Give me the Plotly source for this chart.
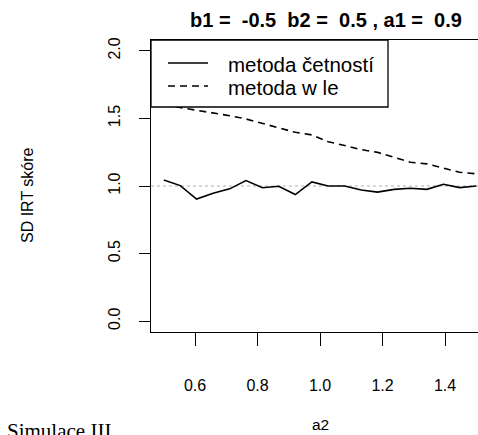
import plotly.graph_objects as go

# a2 values (x axis)
a2 = [0.5, 0.553, 0.605, 0.658, 0.711, 0.763, 0.816, 0.868, 0.921, 0.974,
      1.026, 1.079, 1.132, 1.184, 1.237, 1.289, 1.342, 1.395, 1.447, 1.5]

# SD IRT score - frequency method (solid)
sd_cetnosti = [1.044, 1.003, 0.903, 0.947, 0.979, 1.04, 0.987, 0.998, 0.937, 1.03,
               1.0, 1.0, 0.97, 0.955, 0.975, 0.983, 0.975, 1.013, 0.988, 1.0]

# SD IRT score - WLE method (dashed)
sd_wle = [1.60, 1.58, 1.562, 1.544, 1.52, 1.496, 1.463, 1.434, 1.397, 1.378,
          1.328, 1.299, 1.269, 1.249, 1.212, 1.176, 1.164, 1.131, 1.102, 1.09]

x_ticks = [0.6, 0.8, 1.0, 1.2, 1.4]
x_ticklabels = ["0.6", "0.8", "1.0", "1.2", "1.4"]
y_ticks = [0.0, 0.5, 1.0, 1.5, 2.0]
y_ticklabels = ["0.0", "0.5", "1.0", "1.5", "2.0"]

names = ["metoda četností", "metoda w le"]
dashes = ["solid", "7px,5px"]
title_text = "b1 =\u00a0 -0.5\u00a0 b2 =\u00a0 0.5 , a1 =\u00a0 0.9"

FONT = "Liberation Sans, Arial, sans-serif"

# plot-area geometry (pixels)
L, R, T, B = 151, 478, 40, 332
PW, PH = R - L, B - T


def px(x):
    return (x - L) / PW


def py(y):
    return (B - y) / PH


fig = go.Figure()
fig.add_trace(go.Scatter(x=a2, y=sd_cetnosti, mode="lines", name=names[0],
                         line=dict(color="black", width=1.6, dash=dashes[0])))
fig.add_trace(go.Scatter(x=a2, y=sd_wle, mode="lines", name=names[1],
                         line=dict(color="black", width=1.6, dash=dashes[1])))

# reference line at 1
fig.add_shape(type="line", xref="paper", x0=0, x1=1, yref="y", y0=1, y1=1,
              line=dict(color="#b0b0b0", width=1.2, dash="dot"), layer="below")

# legend box (R style, top-left)
fig.add_shape(type="rect", xref="paper", yref="paper",
              x0=px(151), x1=px(388), y0=py(107), y1=py(40),
              fillcolor="white", line=dict(color="black", width=1.3), layer="above")
leg_y = [63, 86]
for i in range(2):
    fig.add_shape(type="line", xref="paper", yref="paper",
                  x0=px(168), x1=px(208), y0=py(leg_y[i]), y1=py(leg_y[i]),
                  line=dict(color="black", width=1.6, dash=dashes[i]), layer="above")
    fig.add_annotation(text=names[i], xref="paper", yref="paper",
                       x=px(226), y=py(leg_y[i] + 1), xanchor="left", yanchor="middle",
                       showarrow=False,
                       font=dict(size=20.5, family=FONT, color="black"))

fig.update_layout(
    width=478, height=435,
    margin=dict(l=L, r=478 - R, t=T, b=435 - B),
    paper_bgcolor="white", plot_bgcolor="white",
    font=dict(family=FONT, color="black"),
    showlegend=False,
    title=dict(text="<b>" + title_text + "</b>", x=326 / 478, xanchor="center",
               y=1 - 20 / 435, yanchor="middle",
               font=dict(size=20, family=FONT, color="black")),
)

fig.update_xaxes(range=[0.4592, 1.5056], tickmode="array", tickvals=x_ticks,
                 ticktext=x_ticklabels, ticks="outside", ticklen=13, tickwidth=1.3,
                 tickcolor="black", showline=True, linecolor="black", linewidth=1.3,
                 mirror=True, showgrid=False, zeroline=False,
                 tickfont=dict(size=16, family=FONT, color="black"),
                 ticklabelstandoff=26)
fig.update_yaxes(range=[-0.08, 2.08], tickmode="array", tickvals=y_ticks,
                 ticktext=y_ticklabels, ticks="outside", ticklen=11, tickwidth=1.3,
                 tickcolor="black", showline=True, linecolor="black", linewidth=1.3,
                 mirror=False, showgrid=False, zeroline=False, tickangle=-90,
                 tickfont=dict(size=16, family=FONT, color="black"),
                 ticklabelstandoff=12)

# axis titles
fig.add_annotation(text="a2", xref="paper", yref="paper",
                   x=px(320), y=py(424),
                   xanchor="center", yanchor="middle", showarrow=False,
                   font=dict(size=15.5, family=FONT, color="black"))
fig.add_annotation(text="SD IRT skóre", xref="paper", yref="paper",
                   x=px(27), y=py(195), textangle=-90,
                   xanchor="center", yanchor="middle", showarrow=False,
                   font=dict(size=16, family=FONT, color="black"))
# caption (cut by the bottom edge, as in the reference)
fig.add_annotation(text="Simulace III", xref="paper", yref="paper",
                   x=px(5), y=py(417),
                   xanchor="left", yanchor="top", showarrow=False,
                   font=dict(size=21, family="Liberation Serif, Times New Roman, serif",
                             color="black"))

fig.write_html("out.html")
